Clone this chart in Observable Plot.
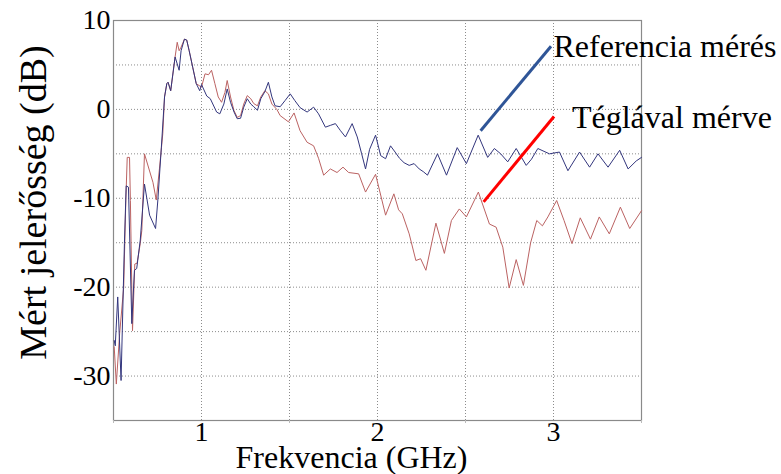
<!DOCTYPE html>
<html>
<head>
<meta charset="utf-8">
<script src="https://cdn.jsdelivr.net/npm/d3@7"></script>
<script src="https://cdn.jsdelivr.net/npm/@observablehq/plot@0.6"></script>
<style>
  html, body { margin: 0; padding: 0; background: #fff; }
  #chart { width: 781px; height: 474px; }
</style>
</head>
<body>
<div id="chart"></div>
<script>
// Reference measurement ("Referencia mérés")
const refFreq = [0.504,0.510,0.524,0.543,0.562,0.572,0.585,0.604,0.619,0.632,0.652,0.676,0.705,0.739,0.752,0.772,0.790,0.803,0.810,0.825,0.850,0.873,0.884,0.903,0.916,0.930,0.950,0.970,0.990,1.000,1.030,1.050,1.086,1.104,1.127,1.146,1.165,1.185,1.203,1.222,1.240,1.260,1.280,1.297,1.318,1.337,1.360,1.380,1.400,1.418,1.447,1.475,1.504,1.530,1.560,1.600,1.637,1.665,1.704,1.732,1.761,1.790,1.818,1.856,1.885,1.910,1.932,1.955,1.989,2.018,2.046,2.074,2.100,2.125,2.151,2.180,2.208,2.237,2.260,2.284,2.341,2.392,2.453,2.505,2.572,2.626,2.664,2.700,2.740,2.788,2.845,2.875,2.911,2.977,3.034,3.082,3.148,3.205,3.253,3.310,3.376,3.424,3.470,3.500];
const refDb = [-26.0,-26.6,-21.1,-30.5,-15.1,-8.6,-8.75,-24.1,-18.1,-17.9,-14.7,-8.4,-11.9,-13.4,-10.2,-4.25,1.4,2.9,3.05,2.1,5.9,4.4,6.6,7.9,7.8,6.6,4.75,2.9,2.1,2.8,1.5,1.2,-0.3,-0.5,0.6,2.3,0.8,-0.3,-1.05,-1.0,0.25,1.2,0.6,0.3,-0.1,1.2,2.0,3.05,1.4,0.4,0.3,1.0,1.75,1.0,0.2,-0.3,0.25,-0.5,-2.0,-1.8,-1.6,-2.4,-3.1,-1.6,-3.1,-5.0,-6.7,-4.5,-2.9,-5.2,-5.55,-4.1,-4.8,-5.5,-6.0,-6.3,-6.1,-6.7,-7.0,-7.4,-5.0,-7.4,-4.3,-6.1,-2.9,-5.4,-4.4,-5.0,-5.9,-4.4,-6.3,-5.6,-4.4,-5.0,-4.8,-6.9,-4.8,-6.5,-5.0,-6.5,-4.6,-6.7,-5.8,-5.4];

// Measurement with brick ("Téglával mérve")
const brickFreq = [0.504,0.516,0.535,0.558,0.570,0.578,0.591,0.596,0.608,0.621,0.634,0.652,0.661,0.676,0.724,0.743,0.761,0.780,0.790,0.803,0.810,0.825,0.850,0.862,0.873,0.884,0.903,0.916,0.930,0.950,0.970,1.000,1.020,1.040,1.057,1.076,1.095,1.114,1.133,1.146,1.165,1.184,1.203,1.222,1.240,1.260,1.280,1.297,1.318,1.337,1.360,1.380,1.400,1.428,1.447,1.494,1.526,1.560,1.600,1.637,1.665,1.694,1.732,1.770,1.804,1.836,1.893,1.932,1.989,2.046,2.093,2.120,2.141,2.180,2.218,2.245,2.275,2.332,2.380,2.420,2.465,2.505,2.573,2.636,2.674,2.712,2.748,2.788,2.829,2.870,2.905,2.937,2.968,3.018,3.060,3.105,3.152,3.210,3.260,3.317,3.380,3.433,3.500];
const brickDb = [-26.7,-30.9,-25.2,-20.0,-10.25,-5.4,-5.4,-10.25,-24.9,-17.4,-17.3,-15.1,-13.6,-5.0,-8.2,-10.2,-6.7,-2.75,1.4,2.9,3.05,2.1,5.9,7.55,6.6,7.0,7.9,7.8,6.6,4.75,2.9,2.5,4.0,3.9,4.4,2.9,1.4,0.8,1.9,3.25,1.4,-0.1,-0.9,-0.7,0.6,1.55,1.2,0.65,0.4,1.4,2.1,1.75,0.6,0.0,-0.7,-1.4,-0.4,-2.4,-3.7,-4.1,-5.5,-7.4,-6.7,-7.1,-6.5,-7.1,-7.25,-9.3,-7.3,-11.9,-9.5,-11.3,-11.75,-14.0,-17.0,-16.8,-18.1,-12.8,-16.2,-12.5,-11.2,-12.1,-9.3,-12.9,-13.25,-15.5,-20.1,-16.9,-19.8,-15.0,-12.5,-13.1,-12.1,-10.25,-12.5,-15.1,-12.2,-14.6,-12.1,-14.0,-11.0,-13.4,-11.4];

// Axis ticks and grid
const xTickLabels = [1, 2, 3];
const xHalfTicks = [0.5, 1.5, 2.5, 3.5];
const xGrid = [1, 1.5, 2, 2.5, 3];
const yTickLabels = [-30, -20, -10, 0, 10];
const yGrid = [-30, -25, -20, -15, -10, -5, 0, 5];

// Callouts (data coordinates)
const calloutNames = ["Referencia mérés", "Téglával mérve"];
const calloutColors = ["#2f5597", "#ff0000"];
const calloutFromX = [2.586, 2.603];
const calloutFromY = [-2.4, -10.4];
const calloutToX = [2.986, 3.003];
const calloutToY = [7.1, -0.8];
const calloutTextX = [3.0, 3.105];
const calloutTextY = [7.0, -0.9];

const refData = refFreq.map((f, i) => ({f, db: refDb[i]}));
const brickData = brickFreq.map((f, i) => ({f, db: brickDb[i]}));
const callouts = calloutNames.map((name, i) => ({
  name, color: calloutColors[i],
  x1: calloutFromX[i], y1: calloutFromY[i], x2: calloutToX[i], y2: calloutToY[i],
  tx: calloutTextX[i], ty: calloutTextY[i]
}));

const FONT = "Liberation Serif, Times New Roman, serif";

const chart = Plot.plot({
  width: 781,
  height: 474,
  marginLeft: 113,
  marginRight: 140,
  marginTop: 20,
  marginBottom: 54,
  style: {fontFamily: FONT, background: "#fff", color: "#000", overflow: "visible"},
  x: {domain: [0.5, 3.5]},
  y: {domain: [-35, 10]},
  marks: [
    Plot.gridX(xGrid, {stroke: "#8c8c8c", strokeOpacity: 1, strokeDasharray: "1,2"}),
    Plot.gridY(yGrid, {stroke: "#8c8c8c", strokeOpacity: 1, strokeDasharray: "1,2"}),
    Plot.frame({stroke: "#8a8a8a", strokeWidth: 1.2}),
    Plot.axisX(xHalfTicks, {tickSize: 3, stroke: "#bbbbbb", tickFormat: () => "", label: null}),
    Plot.axisX(xTickLabels, {tickSize: 0, tickPadding: 1, fontSize: 28, fontFamily: FONT, fill: "#000", label: null, tickFormat: d => String(d)}),
    Plot.axisY(yTickLabels, {tickSize: 0, tickPadding: 3, fontSize: 28, fontFamily: FONT, fill: "#000", label: null, tickFormat: d => String(d)}),
    Plot.line(brickData, {x: "f", y: "db", stroke: "#bb6262", strokeWidth: 1}),
    Plot.line(refData, {x: "f", y: "db", stroke: "#33367d", strokeWidth: 1}),
    Plot.link(callouts, {x1: "x1", y1: "y1", x2: "x2", y2: "y2", stroke: "color", strokeWidth: 3}),
    Plot.text(callouts, {x: "tx", y: "ty", text: "name", textAnchor: "start", fontSize: 32, fontFamily: FONT, fill: "#000"}),
    Plot.text(["Frekvencia (GHz)"], {frameAnchor: "bottom", textAnchor: "middle", dy: 47, dx: -26, fontSize: 32, fontFamily: FONT, fill: "#000"}),
    Plot.text(["Mért jelerősség (dB)"], {frameAnchor: "left", textAnchor: "middle", lineAnchor: "middle", rotate: -90, dx: -80, dy: -18, fontSize: 38, fontFamily: FONT, fill: "#000"})
  ]
});
document.getElementById("chart").appendChild(chart);
</script>
</body>
</html>
